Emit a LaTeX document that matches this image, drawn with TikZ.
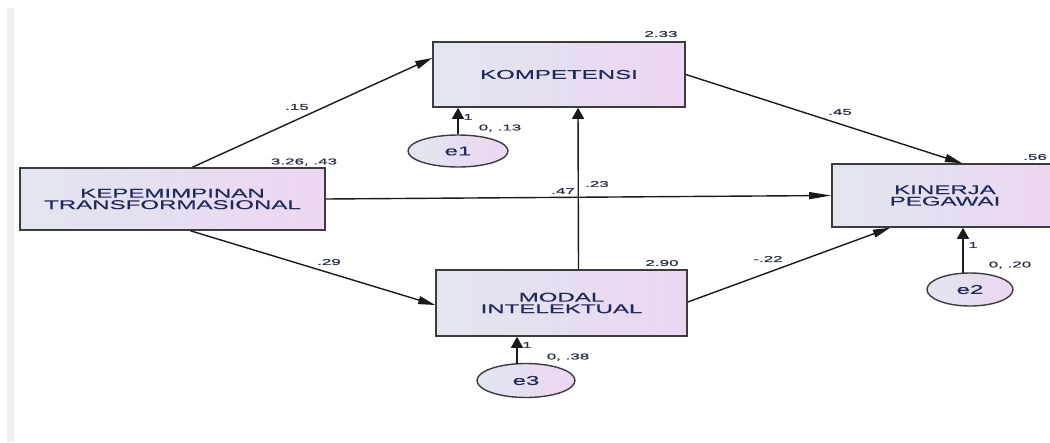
\documentclass[tikz,border=0pt]{standalone}
\usepackage{fontspec}
\usetikzlibrary{arrows.meta,calc,shapes.geometric}
\newfontfamily\boxfont[FakeStretch=1.88,FakeBold=0.25]{Liberation Sans}
\newfontfamily\lblfont[FakeStretch=2.0,FakeBold=1.0]{Liberation Sans}
\definecolor{fillL}{HTML}{E1E6EE}
\definecolor{fillR}{HTML}{ECD6F2}
\definecolor{txt}{HTML}{1F2A5C}
\definecolor{lbl}{HTML}{2A3148}
\definecolor{edge}{HTML}{1A1A1A}
\tikzset{
  varbox/.style={draw=edge!85, line width=1.6pt, left color=fillL, right color=fillR,
    align=center, inner sep=0pt, font=\boxfont\fontsize{12.8}{11.5}\selectfont, text=txt},
  errnode/.style={ellipse, draw=edge!85, line width=1.4pt, left color=fillL, right color=fillR,
    inner sep=0pt, font=\boxfont\fontsize{12.8}{12}\selectfont, text=txt},
  lab/.style={font=\lblfont\fontsize{8.5}{9}\selectfont, text=lbl, inner sep=0pt},
  path/.style={draw=edge, line width=1.4pt},
  htip/.style={-{Triangle[length=22pt,width=7pt]}},
  dtip/.style={-{Triangle[length=17pt,width=8pt]}},
  vtip/.style={-{Triangle[length=11pt,width=12pt]}},
}
\begin{document}
\begin{tikzpicture}[x=1pt,y=-1pt]
  \useasboundingbox (0,0) rectangle (1050,442);
  \clip (0,0) rectangle (1050,442);
  \fill[white] (0,0) rectangle (1050,442);
  % page edge strip
  \fill[gray!12] (7,8) rectangle (14,442);

  % observed variables
  \node[varbox, minimum width=305pt, minimum height=62pt] (kep) at (172.5,199) {KEPEMIMPINAN\\TRANSFORMASIONAL};
  \node[varbox, minimum width=252pt, minimum height=65pt] (komp) at (559,74.5) {KOMPETENSI};
  \node[varbox, minimum width=251pt, minimum height=66pt] (mod) at (561.5,303) {MODAL\\INTELEKTUAL};
  \node[varbox, minimum width=226pt, minimum height=63pt] (kin) at (945,195.5) {KINERJA\\PEGAWAI};

  % error terms
  \node[errnode, minimum width=100pt, minimum height=32pt] (e1) at (458,151) {e1};
  \node[errnode, minimum width=98pt, minimum height=34pt] (e3) at (526,380.5) {e3};
  \node[errnode, minimum width=86pt, minimum height=33pt] (e2) at (970,289.5) {e2};
  \coordinate (e3top) at ($(e3.north)+(-9,1)$);
  \coordinate (e2top) at ($(e2.north)+(-7,1)$);

  % structural paths
  \draw[path, dtip] ($(kep.north)+(20,0)$) -- ($(komp.west)+(0,-16.5)$);
  \draw[path, dtip] ($(kep.south)+(18,0)$) -- ($(mod.west)+(0,2)$);
  \draw[path, htip] (kep.east) -- (kin.west);
  \draw[path, dtip] (komp.east) -- ($(kin.north)+(17,0)$);
  \draw[path, dtip] ($(mod.east)+(0,-1)$) -- ($(kin.south)+(-55,0)$);
  \draw[path, vtip] ($(mod.north)+(17,0)$) -- ($(komp.south)+(19,0)$);

  % error paths
  \draw[path, vtip] (e1.north) -- (e1.north |- komp.south);
  \draw[path, vtip] (e3top) -- (e3top |- mod.south);
  \draw[path, vtip] (e2top) -- (e2top |- kin.south);

  % estimates
  \node[lab] (l15) at (297,107) {.15};
  \node[lab] (lkep) at (304,162) {3.26, .43};
  \node[lab] (l29) at (329,262) {.29};
  \node[lab] (lkomp) at (661,34) {2.33};
  \node[lab] (l45) at (840,112) {.45};
  \node[lab] (lkin) at (1035,157) {.56};
  \node[lab] (l47) at (563,191) {.47};
  \node[lab] (l23) at (597,184) {.23};
  \node[lab] (lmod) at (662,263) {2.90};
  \node[lab] (l22) at (768,259) {-.22};
  \node[lab] (w1) at (468,117) {1};
  \node[lab] (v1) at (500,128) {0, .13};
  \node[lab] (w3) at (527,345) {1};
  \node[lab] (v3) at (568,357) {0, .38};
  \node[lab] (w2) at (973,245) {1};
  \node[lab] (v2) at (1010,265) {0, .20};
\end{tikzpicture}
\end{document}
